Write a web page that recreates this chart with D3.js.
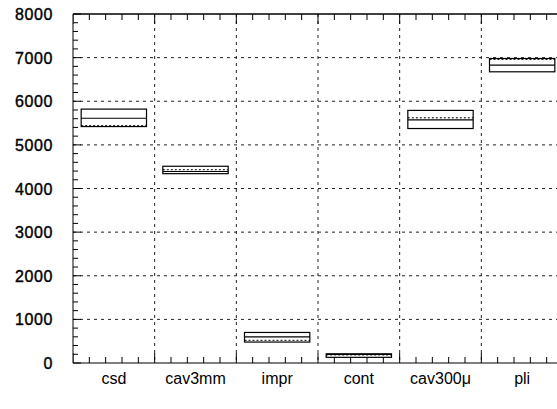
<!DOCTYPE html>
<html><head><meta charset="utf-8">
<script src="https://cdn.jsdelivr.net/npm/d3@7"></script>
<style>body{margin:0;background:#fff}svg{display:block}</style>
</head><body>
<svg id="c" width="557" height="409"></svg>
<script>
const categories = ["csd","cav3mm","impr","cont","cav300\u03bc","pli"];
const boxLow    = [5420, 4340, 480, 130, 5375, 6675];
const boxHigh   = [5820, 4510, 700, 210, 5790, 6980];
const medians   = [5610, 4390, 600, 200, 5575, 6830];
const means     = [5440, 4430, 520, 185, 5620, 6960];
const yTicks    = [0,1000,2000,3000,4000,5000,6000,7000,8000];

const svg = d3.select("#c");
const L = 73, R = 563, T = 14, B = 363;
const y = d3.scaleLinear().domain([0,8000]).range([B,T]);
const xb = d3.scaleBand().domain(categories).range([L,R]).paddingInner(0.2).paddingOuter(0.1);
const xs = d3.scaleBand().domain(categories).range([L,R]).padding(0);
const xl = d3.scaleLinear().domain([0,6]).range([L,R]);

svg.append("defs").append("clipPath").attr("id","clip")
  .append("rect").attr("x",L).attr("y",0).attr("width",557-L).attr("height",409);
const g = svg.append("g").attr("clip-path","url(#clip)");

// horizontal gridlines
g.selectAll("line.hg").data(yTicks.filter(d=>d>0&&d<8000)).enter().append("line")
  .attr("x1",L).attr("x2",R).attr("y1",d=>y(d)).attr("y2",d=>y(d))
  .attr("stroke","#222").attr("stroke-width",1).attr("stroke-dasharray","3,4");
// vertical gridlines
g.selectAll("line.vg").data(d3.range(1,6)).enter().append("line")
  .attr("x1",d=>xl(d)).attr("x2",d=>xl(d)).attr("y1",T).attr("y2",B)
  .attr("stroke","#222").attr("stroke-width",1).attr("stroke-dasharray","3,4");

// axes lines
g.append("line").attr("x1",L).attr("x2",557).attr("y1",B).attr("y2",B).attr("stroke","#000");
g.append("line").attr("x1",L).attr("x2",557).attr("y1",T).attr("y2",T).attr("stroke","#000").attr("stroke-width",1.3);
svg.append("line").attr("x1",L).attr("x2",L).attr("y1",T).attr("y2",B).attr("stroke","#000");

// x ticks (minor every 1/5 band)
const xt = d3.range(0,6.01,0.2).map(v=>Math.round(v*5)/5);
g.selectAll("line.xtb").data(xt).enter().append("line")
  .attr("x1",d=>xl(d)).attr("x2",d=>xl(d))
  .attr("y1",B).attr("y2",d=>B-(Number.isInteger(d)?10:6)).attr("stroke","#000");
g.selectAll("line.xtt").data(xt).enter().append("line")
  .attr("x1",d=>xl(d)).attr("x2",d=>xl(d))
  .attr("y1",T).attr("y2",d=>T+(Number.isInteger(d)?10:6)).attr("stroke","#000");

// y ticks minor every 200
const yt = d3.range(0,8001,200);
svg.selectAll("line.yt").data(yt).enter().append("line")
  .attr("x1",L).attr("x2",d=>L+(d%1000===0?8:5))
  .attr("y1",d=>y(d)).attr("y2",d=>y(d)).attr("stroke","#000");

// y labels
svg.selectAll("text.yl").data(yTicks).enter().append("text")
  .attr("x",53).attr("y",d=>y(d)+6).attr("text-anchor","end")
  .attr("font-family","Liberation Sans, Arial, sans-serif").attr("font-size",16)
  .attr("letter-spacing","0.6px")
  .attr("stroke","#000").attr("stroke-width",0.4)
  .attr("fill","#000").text(d=>d);

// x labels
svg.selectAll("text.xlab").data(categories).enter().append("text")
  .attr("x",d=>xs(d)+xs.bandwidth()/2).attr("y",384).attr("text-anchor","middle")
  .attr("font-family","Liberation Sans, Arial, sans-serif").attr("font-size",16)
  .attr("fill","#000").text(d=>d);

// boxes
const bg = g.selectAll("g.box").data(categories).enter().append("g");
bg.append("rect")
  .attr("x",d=>xb(d)).attr("width",xb.bandwidth())
  .attr("y",(d,i)=>y(boxHigh[i])).attr("height",(d,i)=>y(boxLow[i])-y(boxHigh[i]))
  .attr("fill","none").attr("stroke","#000").attr("stroke-width",1.2);
bg.append("line")
  .attr("x1",d=>xb(d)).attr("x2",d=>xb(d)+xb.bandwidth())
  .attr("y1",(d,i)=>y(medians[i])).attr("y2",(d,i)=>y(medians[i]))
  .attr("stroke","#000").attr("stroke-width",1.2);
bg.append("line")
  .attr("x1",d=>xb(d)).attr("x2",d=>xb(d)+xb.bandwidth())
  .attr("y1",(d,i)=>y(means[i])).attr("y2",(d,i)=>y(means[i]))
  .attr("stroke","#000").attr("stroke-width",1).attr("stroke-dasharray","2,2");
</script>
</body></html>
